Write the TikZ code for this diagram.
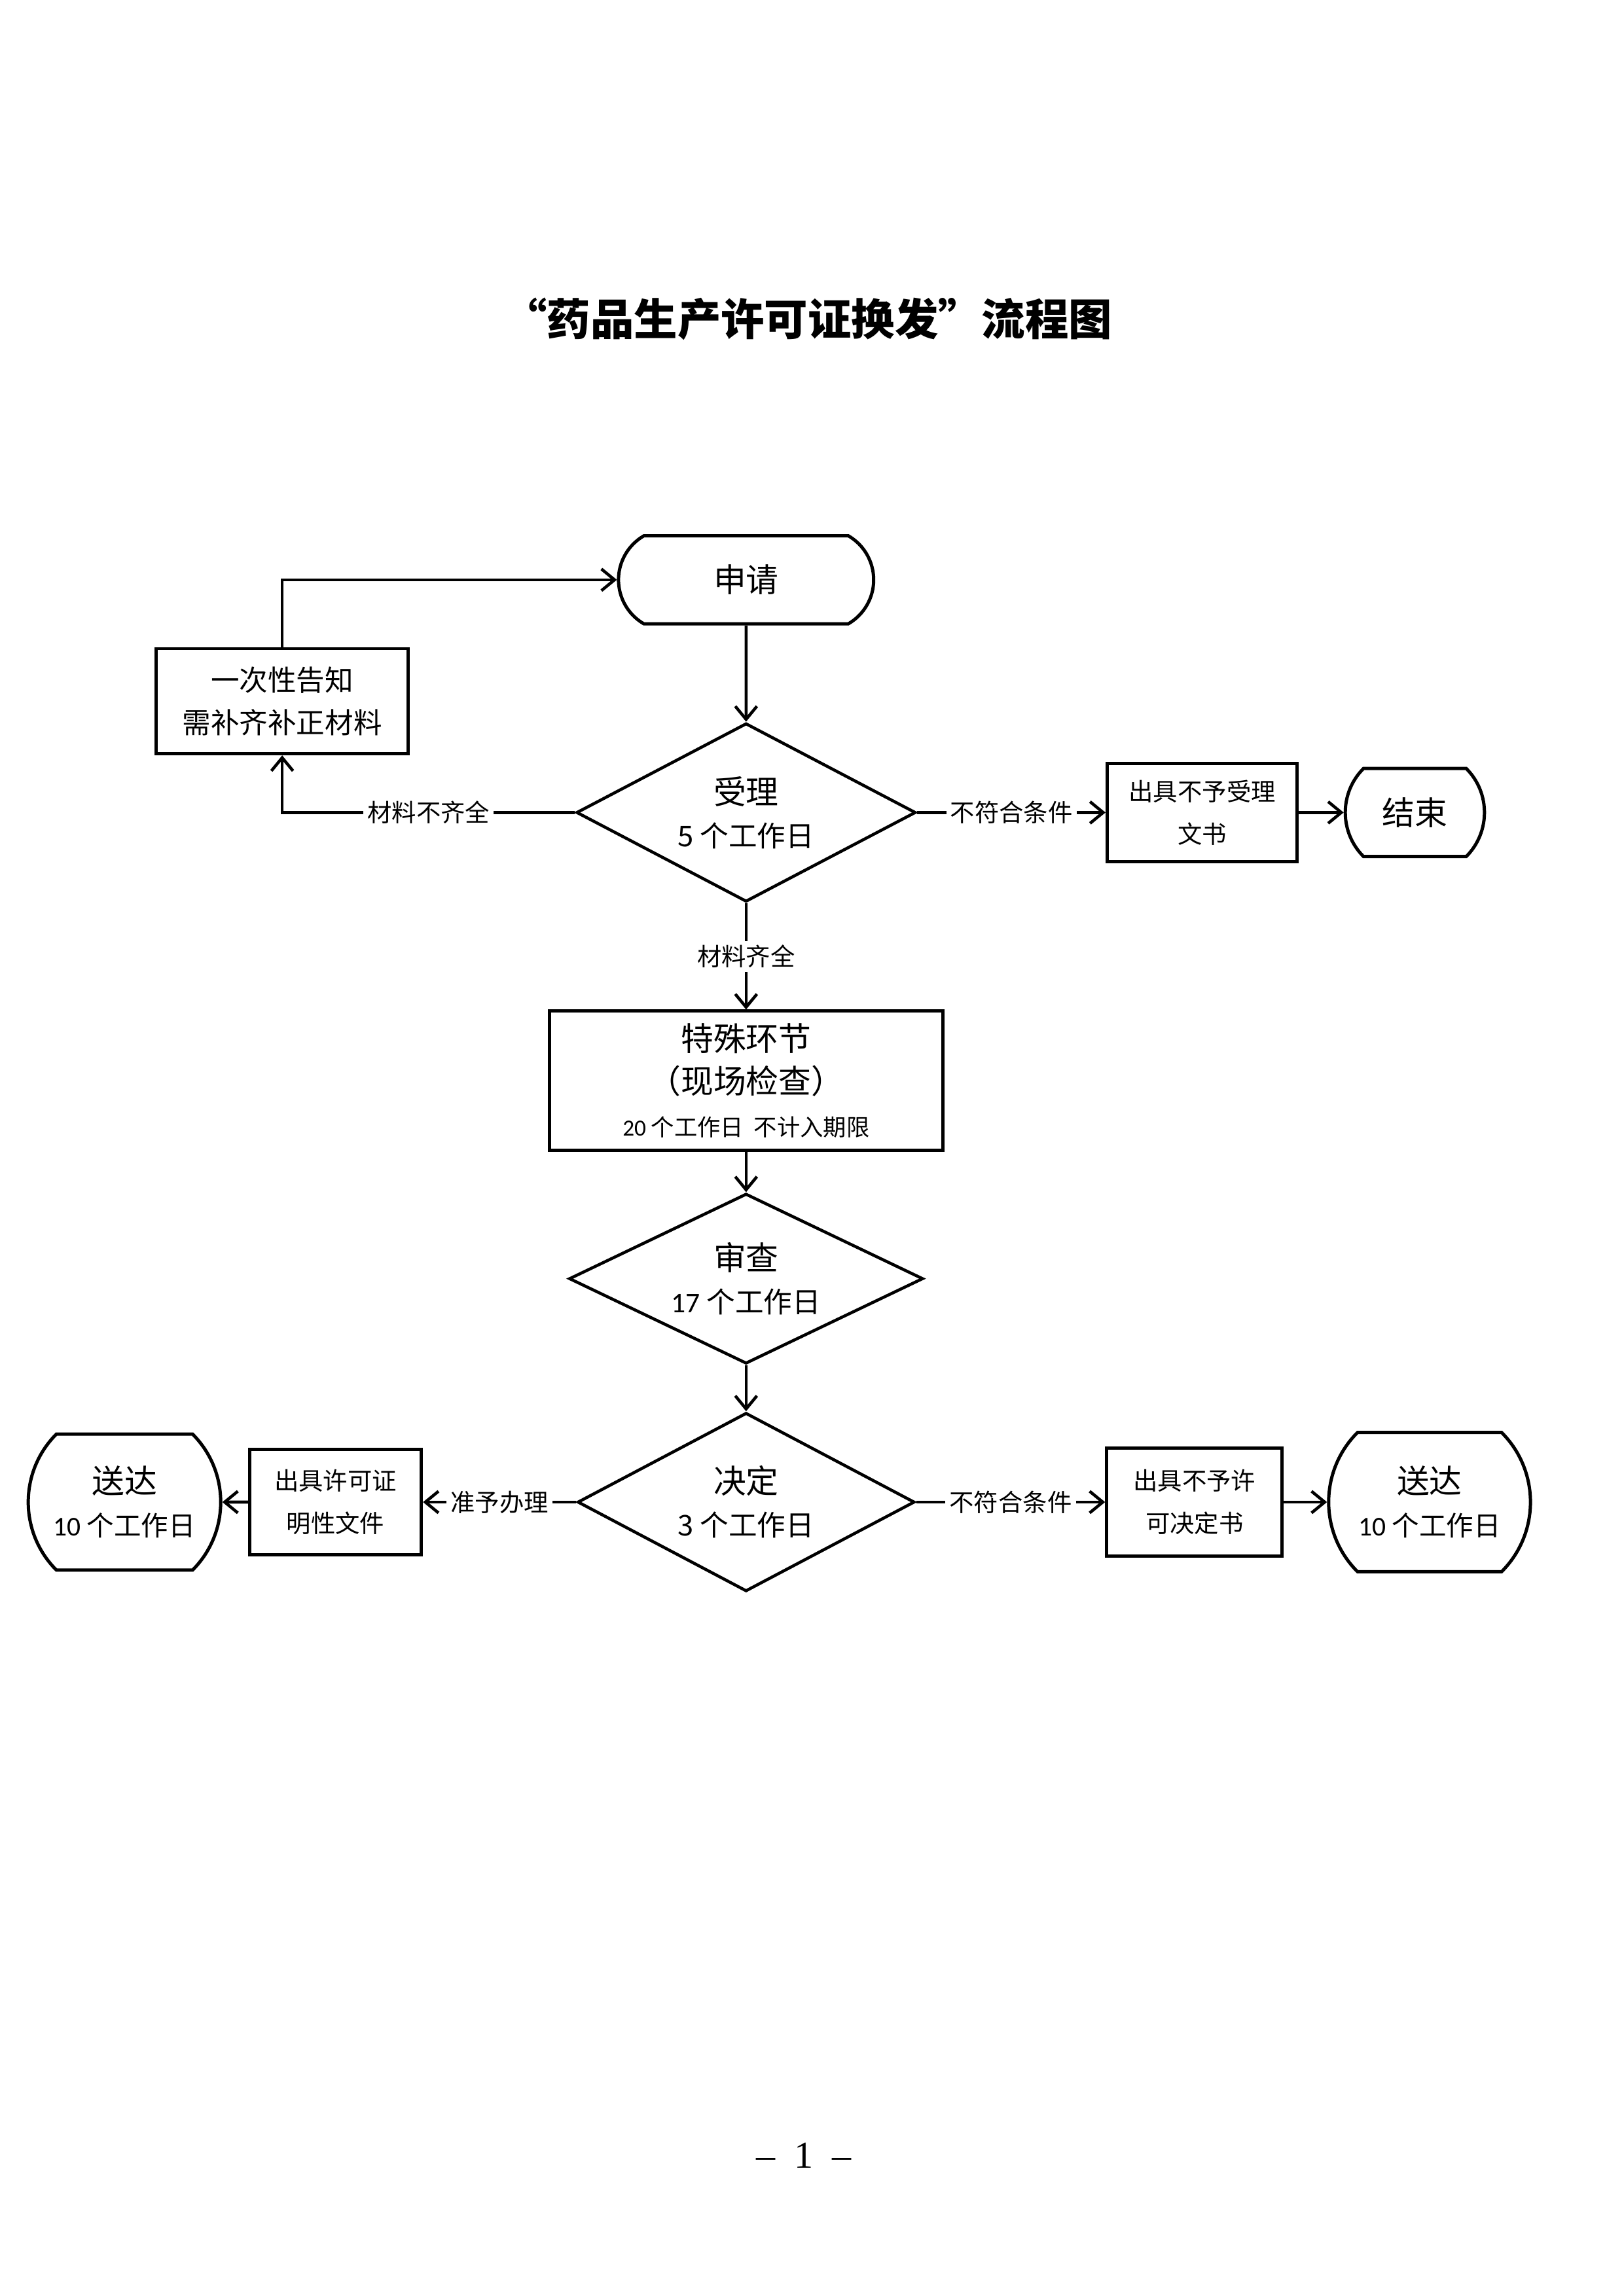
\documentclass[tikz,border=0pt]{standalone}
\usepackage{fontspec}
\setmainfont{Noto Sans CJK SC}
\newfontfamily\numfont{Carlito}
\newfontfamily\serifnum{Liberation Serif}
\usetikzlibrary{arrows.meta, positioning, shapes.geometric, shapes.misc}

\begin{document}
\begin{tikzpicture}[line width=1.1pt,on grid,>={Straight Barb[length=1.7mm,width=2.8mm]}]
    \tikzstyle{terminal}=[shape=rounded rectangle,draw,line width=1.2pt,align=center,inner sep=0pt]
    \tikzstyle{process}=[shape=rectangle,draw,line width=1.2pt,align=center,inner sep=0pt]
    \tikzstyle{decision}=[shape=diamond,draw,aspect=2,align=center,inner sep=0pt]
    \tikzstyle{tag}=[fill=white,inner sep=1.5pt,font=\fontsize{9pt}{11pt}\selectfont]
    \tikzstyle{big}=[font=\fontsize{12pt}{15.6pt}\selectfont]
    \tikzstyle{mid}=[font=\fontsize{10.5pt}{15.6pt}\selectfont]
    \tikzstyle{small}=[font=\fontsize{9pt}{15.6pt}\selectfont]

    \useasboundingbox (0,0) rectangle (21,-29.7);

    \node[font=\fontsize{16pt}{20pt}\selectfont\bfseries] (T0) at (10.45,-4.13) {“药品生产许可证换发”流程图};

    \node[terminal, big, rounded rectangle arc length=120, minimum width=3.3cm, minimum height=1.14cm] (A0) at (9.65,-7.50) {申请};
    \node[process, mid, below left=1.57cm and 6.0cm of A0, minimum width=3.26cm, minimum height=1.36cm] (B0) {一次性告知\\需补齐补正材料};
    \node[decision, big, below=3.01cm of A0, minimum width=4.39cm, minimum height=2.31cm] (A1) {受理\\{\fontsize{10.5pt}{12pt}\selectfont 5 个工作日}};
    \node[process, small, right=5.9cm of A1, minimum width=2.46cm, minimum height=1.27cm] (B1) {出具不予受理\\文书};
    \node[terminal, big, right=2.75cm of B1, rounded rectangle arc length=90, minimum width=1.8cm, minimum height=1.14cm] (E0) {结束};

    \node[process, big, below=3.47cm of A1, minimum width=5.09cm, minimum height=1.8cm] (A2) {特殊环节\\（现场检查）\\{\fontsize{8.5pt}{10pt}\selectfont{\numfont 20} 个工作日\ \ 不计入期限}};
    \node[decision, big, below=2.56cm of A2, minimum width=4.58cm, minimum height=2.2cm] (A3) {审查\\{\fontsize{10.5pt}{12pt}\selectfont{\numfont 17} 个工作日}};
    \node[decision, big, below=2.89cm of A3, minimum width=4.36cm, minimum height=2.31cm] (A4) {决定\\{\fontsize{10.5pt}{12pt}\selectfont 3 个工作日}};

    \node[process, small, left=5.31cm of A4, minimum width=2.22cm, minimum height=1.36cm] (B2) {出具许可证\\明性文件};
    \node[terminal, big, left=2.73cm of B2, rounded rectangle arc length=90, minimum width=2.39cm, minimum height=1.76cm] (D0) {送达\\{\fontsize{10pt}{12pt}\selectfont{\numfont 10} 个工作日}};
    \node[process, small, right=5.8cm of A4, minimum width=2.27cm, minimum height=1.4cm] (B3) {出具不予许\\可决定书};
    \node[terminal, big, right=3.04cm of B3, rounded rectangle arc length=90, minimum width=2.61cm, minimum height=1.8cm] (D1) {送达\\{\fontsize{10pt}{12pt}\selectfont{\numfont 10} 个工作日}};

    \node[font=\fontsize{14pt}{16pt}\selectfont\serifnum] (P0) at (10.40,-27.88) {–\ \ 1\ \ –};

    \path[->, draw]
    (A0) edge (A1)
    (A1) edge node[tag] {不符合条件} (B1)
    (B1) edge (E0)
    (A1) edge node[tag] {材料齐全} (A2)
    (A2) edge (A3)
    (A3) edge (A4)
    (A4) edge node[tag] {准予办理} (B2)
    (B2) edge (D0)
    (A4) edge node[tag] {不符合条件} (B3)
    (B3) edge (D1)
    ;

    \draw[->] (A1) -| node[tag, pos=0.25] {材料不齐全} (B0);
    \draw[->] (B0) |- (A0);

\end{tikzpicture}
\end{document}
